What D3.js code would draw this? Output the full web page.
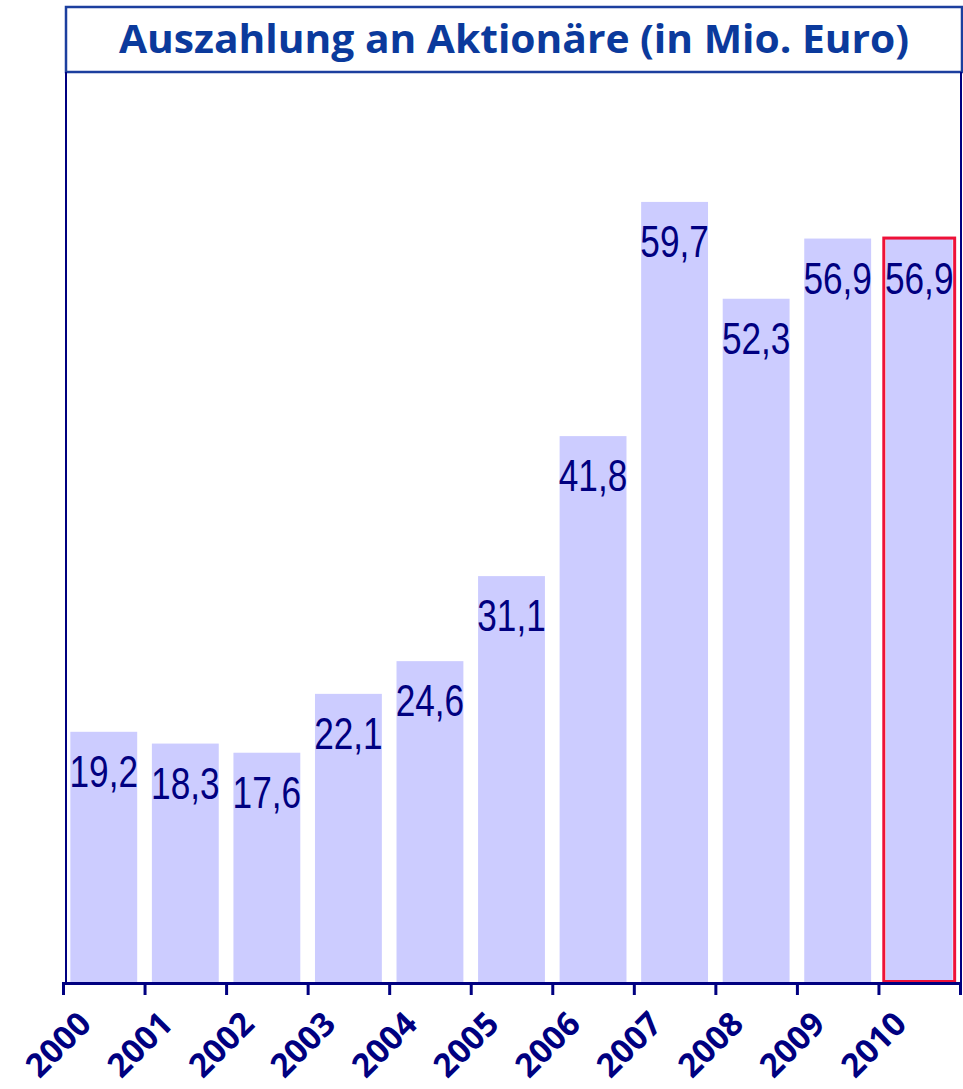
<!DOCTYPE html>
<html lang="de">
<head>
<meta charset="utf-8">
<title>Auszahlung an Aktionäre</title>
<script src="https://cdn.jsdelivr.net/npm/d3@7"></script>
<style>
  body { margin: 0; background: #fff; }
  svg { display: block; }
</style>
</head>
<body>
<div id="chart"></div>
<script>
// data
var years = ["2000", "2001", "2002", "2003", "2004", "2005", "2006", "2007", "2008", "2009", "2010"];
var payout = [19.2, 18.3, 17.6, 22.1, 24.6, 31.1, 41.8, 59.7, 52.3, 56.9, 56.9];
var highlightYear = "2010";
var titleText = "Auszahlung an Aktionäre (in Mio. Euro)";

var W = 963, H = 1089;
var left = 63, right = 960, base = 983;

var svg = d3.select("#chart").append("svg")
    .attr("width", W)
    .attr("height", H);

var x = d3.scaleBand()
    .domain(years)
    .range([left, right])
    .paddingInner(0.18)
    .paddingOuter(0.09);

var y = d3.scaleLinear()
    .domain([0, 60])
    .range([base, 198]);

// tick positions sit on the slot boundaries
var xTick = d3.scaleLinear()
    .domain([0, years.length])
    .range([left, right]);

// title box
svg.append("rect")
    .attr("x", 66).attr("y", 7)
    .attr("width", 896).attr("height", 65)
    .attr("fill", "#fff")
    .attr("stroke", "#1c3f9e")
    .attr("stroke-width", 2.5);

var title = svg.append("text")
    .attr("x", 514).attr("y", 53)
    .attr("text-anchor", "middle")
    .attr("font-family", "'Open Sans', sans-serif")
    .attr("font-weight", 700)
    .attr("font-size", 40)
    .attr("fill", "#0b3a9c")
    .text(titleText);
// squeeze to the width in the picture
if (Math.abs(title.node().getComputedTextLength() - 790) > 8) {
  title.attr("textLength", 790).attr("lengthAdjust", "spacingAndGlyphs");
}

// frame sides
svg.append("line")
    .attr("x1", 66).attr("x2", 66).attr("y1", 72).attr("y2", base)
    .attr("stroke", "#000080").attr("stroke-width", 2);
svg.append("line")
    .attr("x1", 961).attr("x2", 961).attr("y1", 72).attr("y2", base + 12)
    .attr("stroke", "#000080").attr("stroke-width", 2);

// bars
svg.selectAll("rect.bar")
    .data(payout)
    .enter().append("rect")
    .attr("class", "bar")
    .attr("x", function(d, i) { return x(years[i]); })
    .attr("y", function(d) { return y(d); })
    .attr("width", x.bandwidth())
    .attr("height", function(d) { return base - y(d); })
    .attr("fill", "#ccccff");

// highlighted bar outline
var hi = years.indexOf(highlightYear);
svg.append("rect")
    .attr("x", x(highlightYear) - 2)
    .attr("y", y(payout[hi]) - 0.5)
    .attr("width", x.bandwidth() + 4)
    .attr("height", base - y(payout[hi]) - 1)
    .attr("fill", "none")
    .attr("stroke", "#ee1138")
    .attr("stroke-width", 3);

// value labels (narrowed, the original face is condensed)
svg.selectAll("text.val")
    .data(payout)
    .enter().append("text")
    .attr("class", "val")
    .attr("transform", function(d, i) {
      return "translate(" + (x(years[i]) + x.bandwidth() / 2) + "," + (y(d) + 55) + ") scale(0.8,1)";
    })
    .attr("text-anchor", "middle")
    .attr("font-family", "'Liberation Sans', sans-serif")
    .attr("font-size", 44)
    .attr("fill", "#000080")
    .text(function(d) { return d.toFixed(1).replace(".", ","); });

// x axis
var axis = svg.append("g")
    .attr("transform", "translate(0," + base + ")")
    .call(d3.axisBottom(xTick)
      .tickValues(d3.range(years.length + 1))
      .tickSize(12)
      .tickFormat(""));
axis.select(".domain").attr("stroke", "#000080").attr("stroke-width", 3);
axis.selectAll(".tick line").attr("stroke", "#000080").attr("stroke-width", 3);

// year labels, rotated
svg.selectAll("text.year")
    .data(years)
    .enter().append("text")
    .attr("class", "year")
    .attr("transform", function(d, i) {
      return "translate(" + (xTick(i) + 30) + "," + 1026 + ") rotate(-45)";
    })
    .attr("text-anchor", "end")
    .attr("font-family", "'Open Sans', sans-serif")
    .attr("font-weight", 700)
    .attr("font-size", 33)
    .attr("fill", "#000080")
    .text(function(d) { return d; });
</script>
</body>
</html>
